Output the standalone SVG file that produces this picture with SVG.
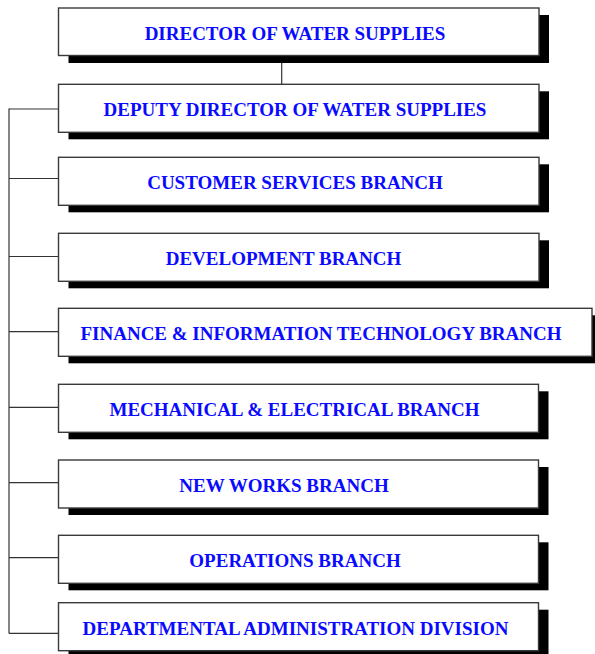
<svg xmlns="http://www.w3.org/2000/svg" width="595" height="654" viewBox="0 0 595 654">
<style>
.box{fill:#fff;stroke:#3a3a3a;stroke-width:1.4}
.sh{fill:#000}
.t{font-family:"Liberation Serif","Times New Roman",serif;font-weight:bold;font-size:19px;fill:#0a0aff;text-anchor:middle}
.c{stroke:#333;stroke-width:1.2;fill:none}
</style>
<rect width="595" height="654" fill="#fff"/>
<g id="connectors">
<line class="c" x1="281.7" y1="62" x2="281.7" y2="84.3"/>
<line class="c" x1="9" y1="108.5" x2="9" y2="633.5"/>
<line class="c" x1="9" y1="109" x2="58.5" y2="109"/>
<line class="c" x1="9" y1="178.5" x2="58.5" y2="178.5"/>
<line class="c" x1="9" y1="256.5" x2="58.5" y2="256.5"/>
<line class="c" x1="9" y1="331.7" x2="58.5" y2="331.7"/>
<line class="c" x1="9" y1="407.3" x2="58.5" y2="407.3"/>
<line class="c" x1="9" y1="482.7" x2="58.5" y2="482.7"/>
<line class="c" x1="9" y1="557.7" x2="58.5" y2="557.7"/>
<line class="c" x1="9" y1="633.3" x2="58.5" y2="633.3"/>
</g>
<g id="director">
<rect class="sh" x="68.5" y="15" width="480.5" height="48"/>
<rect class="box" x="58.5" y="8" width="480.5" height="47.5"/>
<text class="t" x="295" y="39.5">DIRECTOR OF WATER SUPPLIES</text>
</g>
<g id="deputy">
<rect class="sh" x="68.5" y="91.3" width="480.5" height="48"/>
<rect class="box" x="58.5" y="84.3" width="480.5" height="48"/>
<text class="t" x="295" y="116.3">DEPUTY DIRECTOR OF WATER SUPPLIES</text>
</g>
<g id="customer">
<rect class="sh" x="68.5" y="164.3" width="480.5" height="48"/>
<rect class="box" x="58.5" y="157.3" width="480.5" height="48"/>
<text class="t" x="295" y="189.3">CUSTOMER SERVICES BRANCH</text>
</g>
<g id="development">
<rect class="sh" x="68.5" y="240.3" width="480.5" height="48"/>
<rect class="box" x="58.5" y="233.3" width="480.5" height="48"/>
<text class="t" x="283.5" y="265.3">DEVELOPMENT BRANCH</text>
</g>
<g id="finance">
<rect class="sh" x="68.5" y="315.3" width="533.5" height="48"/>
<rect class="box" x="58.5" y="308.3" width="533.5" height="48"/>
<text class="t" x="321" y="340.3">FINANCE &amp; INFORMATION TECHNOLOGY BRANCH</text>
</g>
<g id="mechanical">
<rect class="sh" x="68.5" y="391.3" width="480" height="48"/>
<rect class="box" x="58.5" y="384.3" width="480" height="48"/>
<text class="t" x="294.5" y="416.3">MECHANICAL &amp; ELECTRICAL BRANCH</text>
</g>
<g id="newworks">
<rect class="sh" x="68.5" y="467" width="480" height="48"/>
<rect class="box" x="58.5" y="460" width="480" height="48"/>
<text class="t" x="284" y="492">NEW WORKS BRANCH</text>
</g>
<g id="operations">
<rect class="sh" x="68.5" y="542.3" width="480" height="48"/>
<rect class="box" x="58.5" y="535.3" width="480" height="48"/>
<text class="t" x="295" y="567.3">OPERATIONS BRANCH</text>
</g>
<g id="admin">
<rect class="sh" x="68.5" y="609.7" width="480" height="48"/>
<rect class="box" x="58.5" y="602.7" width="480" height="48"/>
<text class="t" x="295.5" y="634.7">DEPARTMENTAL ADMINISTRATION DIVISION</text>
</g>
</svg>
